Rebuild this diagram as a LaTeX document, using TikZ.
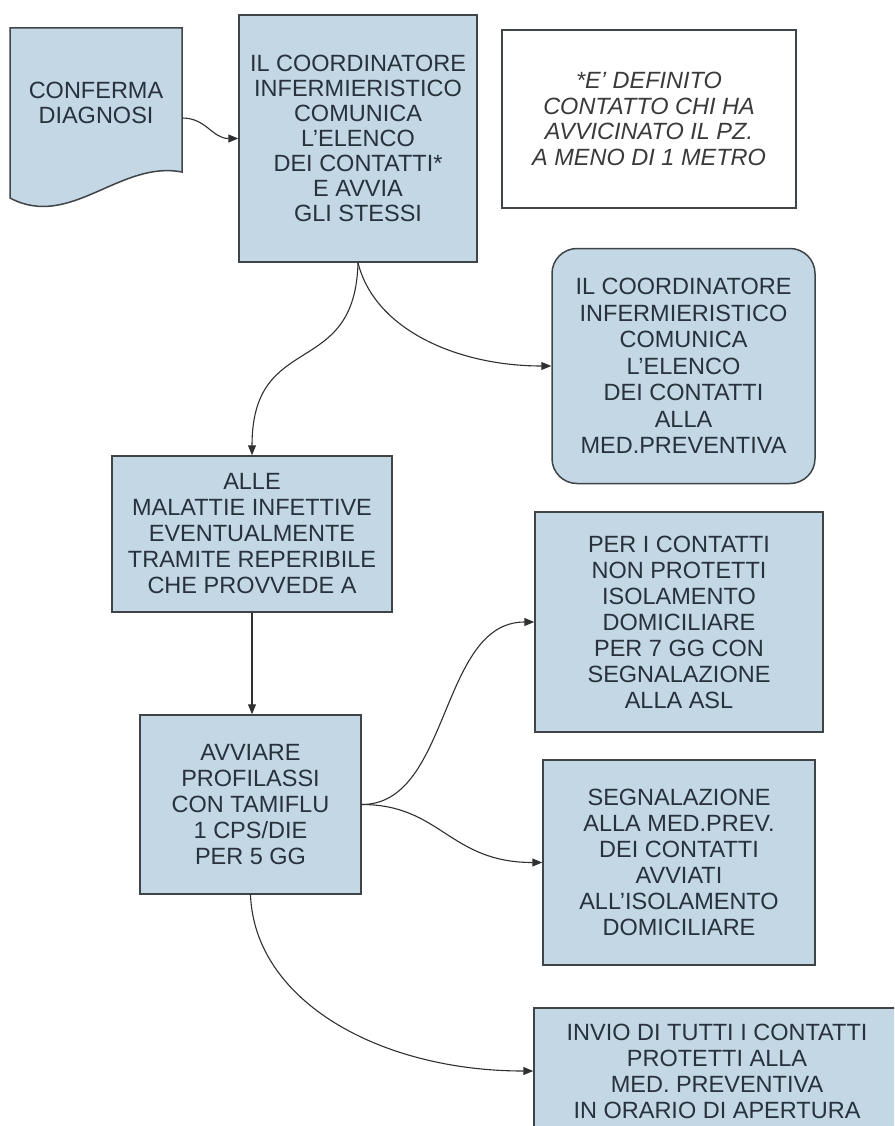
\documentclass[tikz,border=0pt]{standalone}
\usepackage{fontspec}
\setmainfont{Liberation Sans}
\usetikzlibrary{arrows.meta}
\definecolor{boxfill}{HTML}{C3D7E4}
\definecolor{boxline}{HTML}{3E4448}
\definecolor{inktext}{HTML}{28323E}
\definecolor{notetext}{HTML}{3A3A3A}
\definecolor{linkcol}{HTML}{303030}
\begin{document}
\begin{tikzpicture}[x=1pt,y=-1pt,
  panel/.style={draw=boxline, line width=1.5pt, fill=boxfill, text=inktext,
    align=center, inner sep=0pt, font=\fontsize{23.5}{26}\selectfont},
  notebox/.style={draw=boxline, line width=1.3pt, fill=white, text=notetext,
    align=center, inner sep=0pt, font=\itshape\fontsize{23.5}{25.5}\selectfont},
  link/.style={draw=linkcol, line width=1.1pt, -{Triangle[length=10pt,width=8pt]}}]
\useasboundingbox (0,0) rectangle (894,1126);
\clip (0,0) rectangle (894,1126);
\fill[white] (0,0) rectangle (894,1126);

% document-shaped start block
\draw[boxline, line width=1.5pt, fill=boxfill]
  (10,28) -- (182,28) -- (182,172) .. controls (120,160) and (70,230) .. (10,198) -- cycle;
\node[text=inktext, align=center, inner sep=0pt, minimum width=172pt, minimum height=150pt,
  font=\fontsize{23.5}{25}\selectfont] (doc) at (96,103) {CONFERMA\\DIAGNOSI};

% process boxes
\node[panel, minimum width=238pt, minimum height=247pt, font=\fontsize{23.5}{25}\selectfont]
  (coord) at (358,138.5)
  {IL COORDINATORE\\INFERMIERISTICO\\COMUNICA\\L'ELENCO\\DEI CONTATTI*\\E AVVIA\\GLI STESSI};

\node[notebox, minimum width=294pt, minimum height=178pt] (note) at (649,119)
  {*E' DEFINITO\\CONTATTO CHI HA\\AVVICINATO IL PZ.\\A MENO DI 1 METRO};

\node[panel, rounded corners=25pt, minimum width=263pt, minimum height=235pt, font=\fontsize{23.5}{26.5}\selectfont]
  (prev) at (683.5,366)
  {IL COORDINATORE\\INFERMIERISTICO\\COMUNICA\\L'ELENCO\\DEI CONTATTI\\ALLA\\MED.PREVENTIVA};

\node[panel, minimum width=280pt, minimum height=156pt] (malat) at (252,534)
  {ALLE\\MALATTIE INFETTIVE\\EVENTUALMENTE\\TRAMITE REPERIBILE\\CHE PROVVEDE A};

\node[panel, minimum width=221pt, minimum height=179pt] (avvia) at (250.5,804.5)
  {AVVIARE\\PROFILASSI\\CON TAMIFLU\\1 CPS/DIE\\PER 5 GG};

\node[panel, minimum width=288pt, minimum height=220pt] (isol) at (679,622)
  {PER I CONTATTI\\NON PROTETTI\\ISOLAMENTO\\DOMICILIARE\\PER 7 GG CON\\SEGNALAZIONE\\ALLA ASL};

\node[panel, minimum width=272pt, minimum height=205pt] (segn) at (679,862.5)
  {SEGNALAZIONE\\ALLA MED.PREV.\\DEI CONTATTI\\AVVIATI\\ALL'ISOLAMENTO\\DOMICILIARE};

\node[panel, minimum width=366pt, minimum height=126pt] (invio) at (717,1071)
  {INVIO DI TUTTI I CONTATTI\\PROTETTI ALLA\\MED. PREVENTIVA\\IN ORARIO DI APERTURA};

% connectors
\draw[link] ([yshift=-15pt]doc.east) .. controls +(24,0) and +(-26,0) .. (coord.west);
\draw[link] (coord.south) .. controls +(-3,118) and +(0,-126) .. (malat.north);
\draw[link] (coord.south) .. controls +(17,68) and +(-92,0) .. (prev.west);
\draw[link] (malat.south) -- (malat.south |- avvia.north);
\draw[link] (avvia.east) .. controls +(89,0) and +(-95,0) .. (isol.west);
\draw[link] (avvia.east) .. controls +(79,0) and +(-93,0) .. (segn.west);
\draw[link] (avvia.south) .. controls +(4,106) and +(-154,0) .. (invio.west);
\end{tikzpicture}
\end{document}
